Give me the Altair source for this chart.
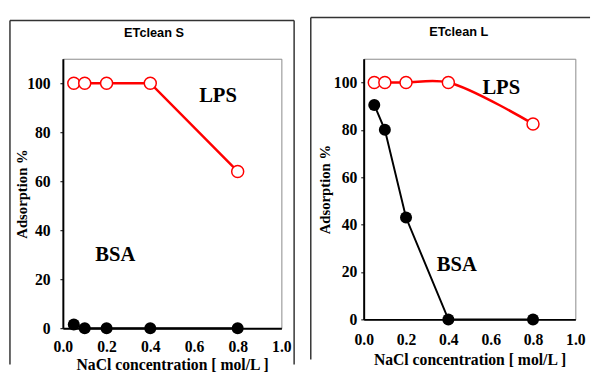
import altair as alt
import pandas as pd

# ---- data ----
nacl = [0.05, 0.1, 0.2, 0.4, 0.8]
s_lps = [100, 100, 100, 100, 64]
s_bsa = [1.5, 0, 0, 0, 0]
l_lps = [100, 100, 100, 100, 82.5]
l_bsa = [90.5, 80, 43, 0, 0]

titles = ["ETclean S", "ETclean L"]
series_names = ["LPS", "BSA"]
x_ticks = [0.0, 0.2, 0.4, 0.6, 0.8, 1.0]
y_ticks = [0, 20, 40, 60, 80, 100]

# label positions (data coordinates)
s_label_x = [0.71, 0.24]
s_label_y = [94.8, 30]
l_label_x = [0.65, 0.44]
l_label_y = [97.5, 23]

SERIF = "Liberation Serif"
SANS = "Liberation Sans"
RED = "#ff0000"


def panel(title, lps, bsa, lab_x, lab_y, w, h, lps_interp, ylab_pad, ytitle_x,
          xlab_pad, xtitle_pad, title_x, title_y, fr_left, fr_top, fr_right, fr_bottom, draw_right):
    df = pd.DataFrame({"x": nacl, "lps": lps, "bsa": bsa})
    xsc = alt.Scale(domain=[0, 1], nice=False)
    ysc = alt.Scale(domain=[0, 110], nice=False)
    common = dict(labelFont=SERIF, labelFontWeight="bold", labelFontSize=16, labelColor="black",
                  titleFont=SERIF, titleFontWeight="bold", titleColor="black",
                  domainColor="black", domainWidth=2, grid=False)
    xax = alt.Axis(values=x_ticks, format=".1f", title="NaCl concentration [ mol/L ]",
                   ticks=False, labelPadding=xlab_pad, titlePadding=xtitle_pad,
                   titleFontSize=16, labelFlush=False, **common)
    yax = alt.Axis(values=y_ticks, title="Adsorption %", tickSize=3, tickColor="black",
                   labelPadding=ylab_pad, titleX=ytitle_x, titleBaseline="middle",
                   titleFontSize=15, **common)
    base = alt.Chart(df)
    bsa_line = base.mark_line(color="black", strokeWidth=2).encode(
        x=alt.X("x:Q", scale=xsc, axis=xax), y=alt.Y("bsa:Q", scale=ysc, axis=yax))
    lps_line = base.mark_line(color=RED, strokeWidth=2.5, interpolate=lps_interp).encode(
        x=alt.X("x:Q", scale=xsc, axis=xax), y=alt.Y("lps:Q", scale=ysc, axis=yax))
    bsa_pts = base.mark_point(shape="circle", filled=True, color="black", size=150, opacity=1).encode(
        x="x:Q", y="bsa:Q")
    lps_pts = base.mark_point(shape="circle", fill="white", stroke=RED, strokeWidth=1.5,
                              size=150, opacity=1, fillOpacity=1).encode(x="x:Q", y="lps:Q")
    lab_df = pd.DataFrame({"x": lab_x, "y": lab_y, "t": series_names})
    labels = alt.Chart(lab_df).mark_text(font=SERIF, fontWeight="bold", fontSize=21,
                                         color="black", align="center", baseline="middle").encode(
        x="x:Q", y="y:Q", text="t:N")
    one = pd.DataFrame({"t": [title]})
    ttl = alt.Chart(one).mark_text(font=SANS, fontWeight="bold", fontSize=13, color="black",
                                   align="center", baseline="middle").encode(
        text="t:N", x=alt.value(title_x), y=alt.value(title_y))
    rules = [
        alt.Chart(one).mark_rule(color="#333333", strokeWidth=1.5).encode(
            x=alt.value(fr_left), y=alt.value(fr_top), y2=alt.value(fr_bottom)),
        alt.Chart(one).mark_rule(color="#333333", strokeWidth=1.5).encode(
            x=alt.value(fr_left), x2=alt.value(fr_right), y=alt.value(fr_top)),
    ]
    if draw_right:
        rules.append(alt.Chart(one).mark_rule(color="#333333", strokeWidth=1.5).encode(
            x=alt.value(fr_right), y=alt.value(fr_top), y2=alt.value(fr_bottom)))
    return alt.layer(bsa_line, lps_line, bsa_pts, lps_pts, labels, ttl, *rules).properties(
        width=w, height=h)


left = panel(titles[0], s_lps, s_bsa, s_label_x, s_label_y, 223, 275, "linear", 10, -42,
             11, 2, 93, -26, -54, -39, 236, 312, True)
right = panel(titles[1], l_lps, l_bsa, l_label_x, l_label_y, 216, 266, "catmull-rom", 4, -40,
              13, 4, 97, -27, -54, -42, 231, 307, False)

chart = alt.hconcat(left, right, spacing=13).properties(
    padding={"left": 0, "top": 4, "right": 0, "bottom": 0}
).configure_view(stroke="#888888", strokeWidth=1).configure_axis(
    labelFont=SERIF, labelFontWeight="bold", labelFontSize=16, labelColor="black",
    titleFont=SERIF, titleFontWeight="bold", titleColor="black"
)

chart.save("out.html", embed_options={"renderer": "svg", "actions": False})
